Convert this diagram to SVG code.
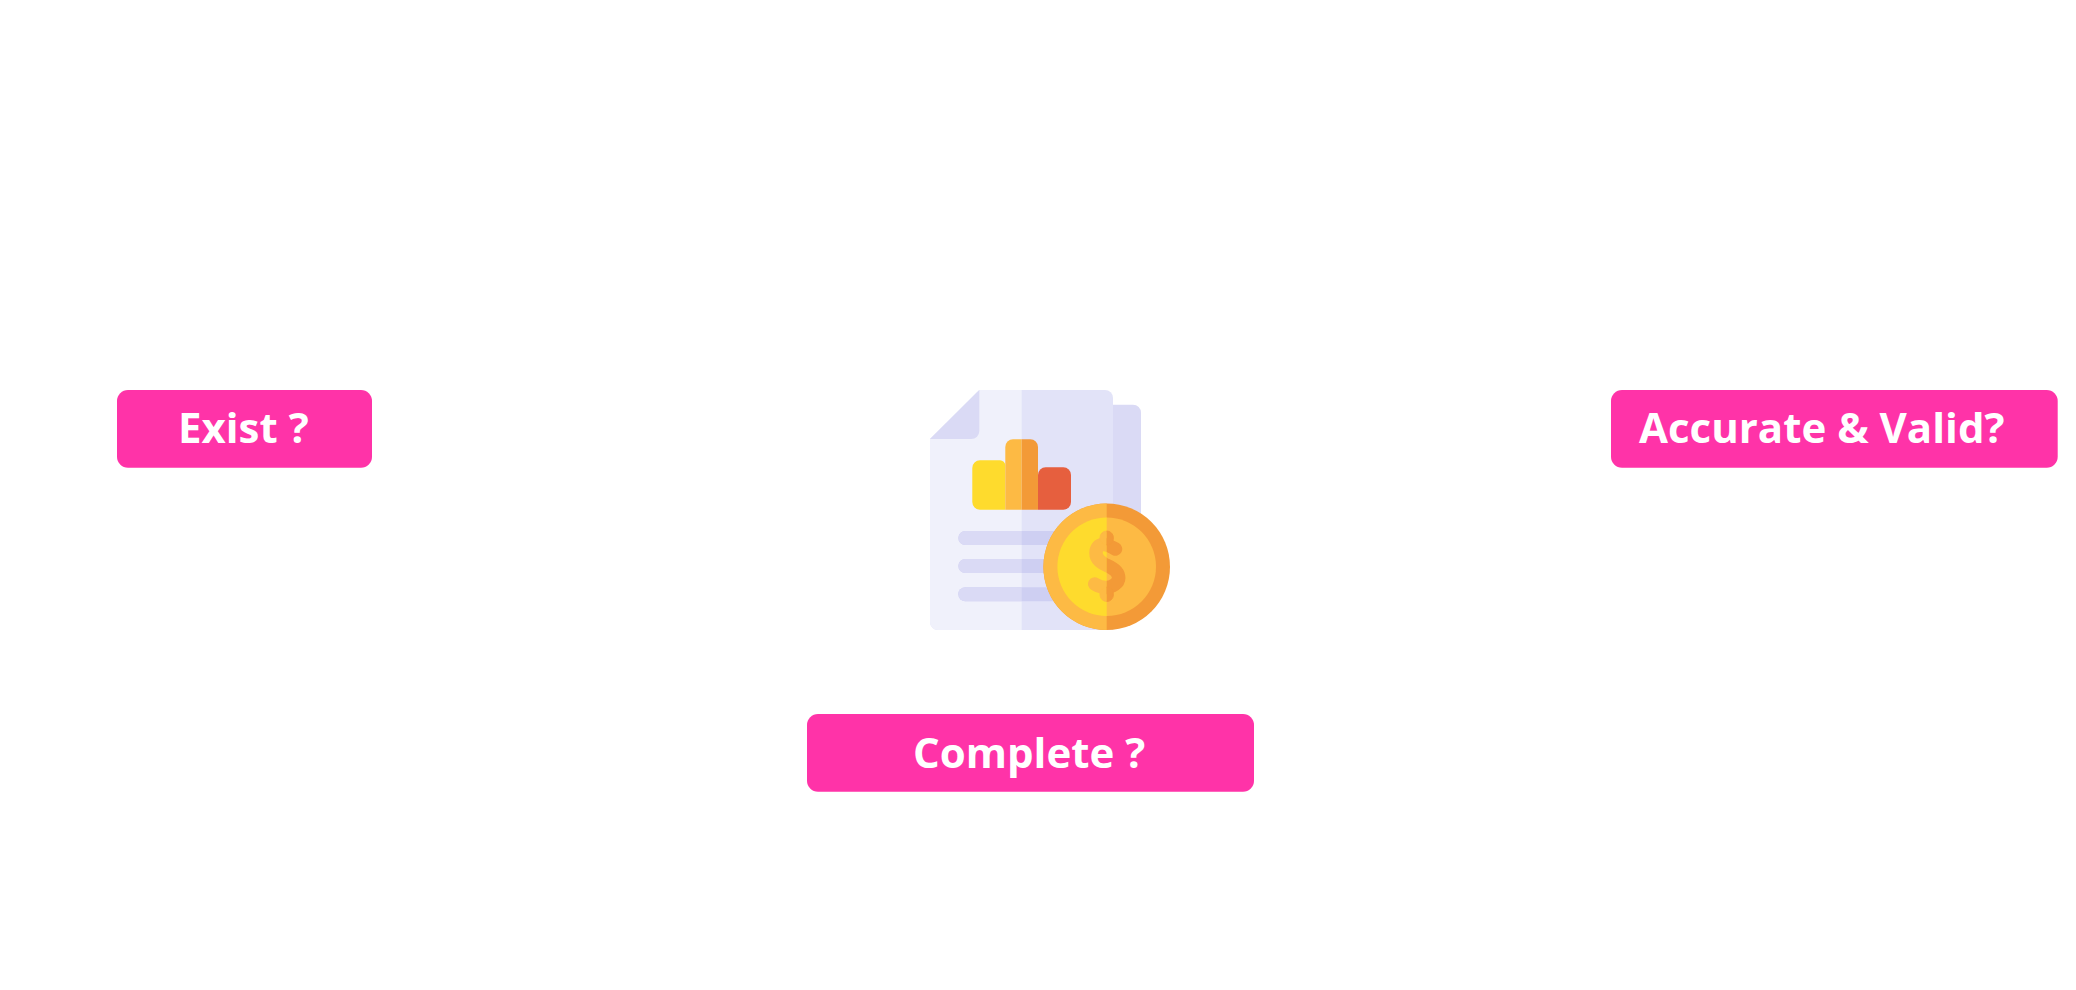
<svg xmlns="http://www.w3.org/2000/svg" xmlns:xlink="http://www.w3.org/1999/xlink" width="2076" height="990" viewBox="0 0 2076 990">
<style>
.box{fill:#FF33A8}
.lbl{font-family:"Open Sans","Noto Sans","Liberation Sans",sans-serif;font-weight:700;font-size:42px;fill:#fff}
.dollar{fill:none;stroke-width:13.5;stroke-linecap:round;stroke-linejoin:round}
</style>
<defs>
<clipPath id="clipL"><rect x="900" y="380" width="206.7" height="260"/></clipPath>
<clipPath id="clipR"><rect x="1106.7" y="380" width="80" height="260"/></clipPath>
<clipPath id="pageL"><rect x="900" y="380" width="121.7" height="260"/></clipPath>
<g id="dollarShape">
<path d="M1115.5 549C1111 546.5 1107 544.5 1103.5 544.5C1098 544.5 1096 549 1096 553C1096 560 1102 563 1107 565.5C1113 568 1118.7 572 1118.7 578C1118.7 583 1112 587.5 1106 587.5C1102 587.5 1098 586 1094.7 584" class="dollar"/>
<rect x="1100" y="531" width="13.4" height="14" rx="6.7"/>
<rect x="1100" y="587" width="13.4" height="14.5" rx="6.7"/>
</g>
</defs>
<rect width="2076" height="990" fill="#fff"/>
<g id="connectors"/>
<g id="exist"><rect class="box" x="117" y="390" width="255" height="77.7" rx="11"/><text class="lbl" x="178" y="443.3">Exist ?</text></g>
<g id="accurate"><rect class="box" x="1611" y="390" width="446.7" height="77.7" rx="11"/><text class="lbl" x="1639" y="443.3">Accurate &amp; Valid?</text></g>
<g id="complete"><rect class="box" x="807" y="714" width="447" height="77.7" rx="11"/><text class="lbl" x="913" y="768">Complete ?</text></g>
<g id="icon">
<path d="M1113 404.7H1133a8 8 0 0 1 8 8V560H1113Z" fill="#DADAF5"/>
<path d="M979.3 390H1105a8 8 0 0 1 8 8V630H938a8 8 0 0 1-8-8V439Z" fill="#E2E3F8"/>
<path d="M979.3 390H1021.7V630H938a8 8 0 0 1-8-8V439Z" fill="#F0F1FB"/>
<path d="M979.3 390V431a8 8 0 0 1-8 8H930Z" fill="#DADAF5"/>
<path d="M980 460.3H1000a5.3 5.3 0 0 1 5.3 5.3V509.7H980a7.7 7.7 0 0 1-7.7-7.7V468a7.7 7.7 0 0 1 7.7-7.7Z" fill="#FEDB2D"/>
<path d="M1005.3 447a7.7 7.7 0 0 1 7.7-7.7H1021.7V509.7H1005.3Z" fill="#FDBA44"/>
<path d="M1021.7 439.3H1030.3a7.7 7.7 0 0 1 7.7 7.7V509.7H1021.7Z" fill="#F39A37"/>
<path d="M1038 475a7.7 7.7 0 0 1 7.7-7.7H1063.3a7.7 7.7 0 0 1 7.7 7.7V502a7.7 7.7 0 0 1-7.7 7.7H1038Z" fill="#E65F3E"/>
<g fill="#CECFF2">
<rect x="958.3" y="531" width="130" height="14" rx="7"/>
<rect x="958.3" y="559" width="130" height="14" rx="7"/>
<rect x="958.3" y="587.3" width="130" height="14" rx="7"/>
</g>
<g fill="#DADAF5" clip-path="url(#pageL)">
<rect x="958.3" y="531" width="130" height="14" rx="7"/>
<rect x="958.3" y="559" width="130" height="14" rx="7"/>
<rect x="958.3" y="587.3" width="130" height="14" rx="7"/>
</g>
<circle cx="1106.7" cy="566.7" r="63.3" fill="#F39A37"/>
<circle cx="1106.7" cy="566.7" r="63.3" fill="#FDBA44" clip-path="url(#clipL)"/>
<circle cx="1106.7" cy="566.7" r="49.3" fill="#FDBA44"/>
<circle cx="1106.7" cy="566.7" r="49.3" fill="#FEDB2D" clip-path="url(#clipL)"/>
<g clip-path="url(#clipL)"><use xlink:href="#dollarShape" fill="#FDBA44" stroke="#FDBA44"/></g>
<g clip-path="url(#clipR)"><use xlink:href="#dollarShape" fill="#F39A37" stroke="#F39A37"/></g>
</g>
</svg>
